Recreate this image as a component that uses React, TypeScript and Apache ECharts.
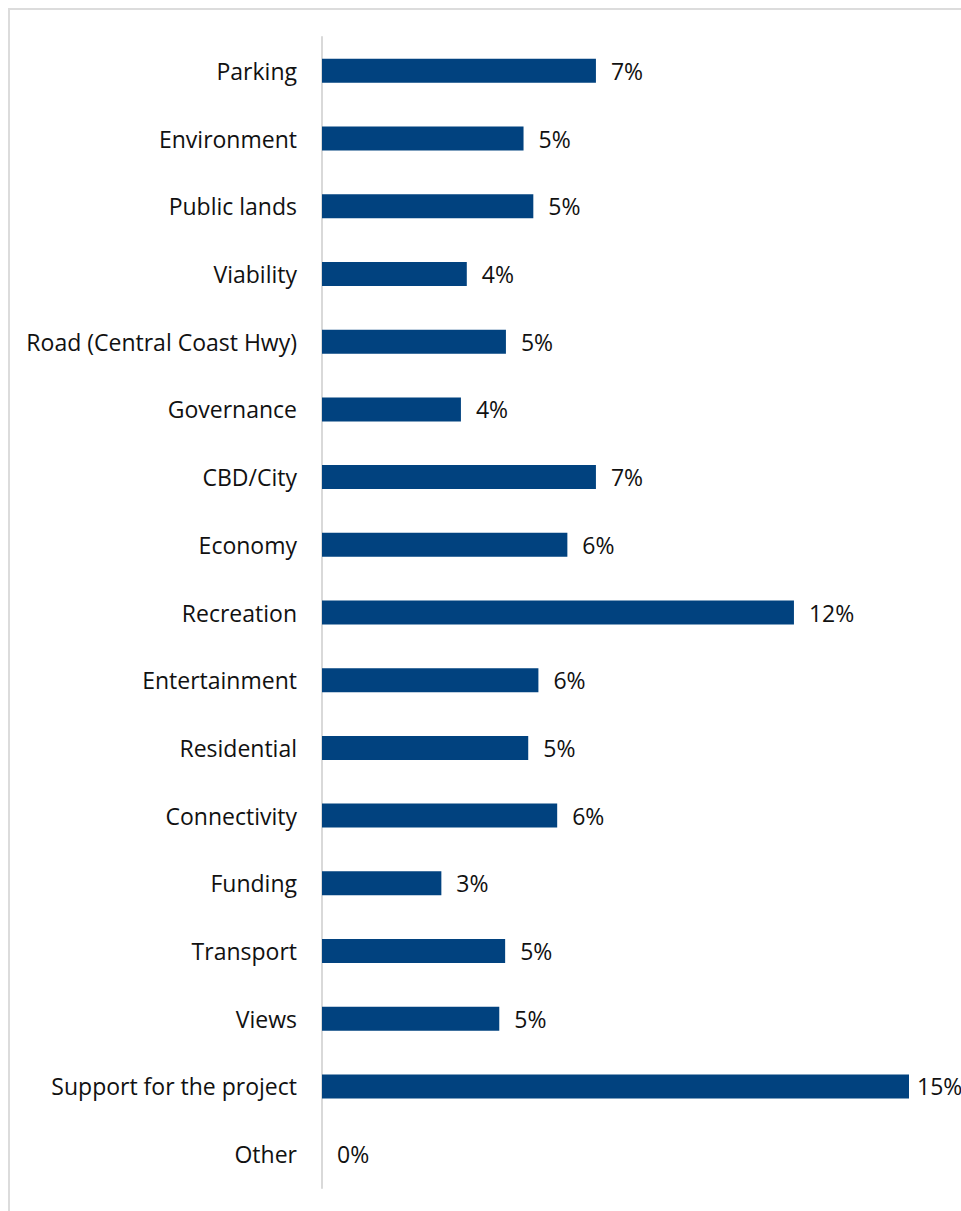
import React, { useEffect, useRef } from "react";
import * as echarts from "echarts";

const categories = [
  "Parking",
  "Environment",
  "Public lands",
  "Viability",
  "Road (Central Coast Hwy)",
  "Governance",
  "CBD/City",
  "Economy",
  "Recreation",
  "Entertainment",
  "Residential",
  "Connectivity",
  "Funding",
  "Transport",
  "Views",
  "Support for the project",
  "Other",
];

const values = [7.0, 5.15, 5.4, 3.7, 4.7, 3.55, 7.0, 6.27, 12.06, 5.53, 5.27, 6.01, 3.05, 4.68, 4.53, 15.0, 0];

const FONT = "'Open Sans', 'Noto Sans', sans-serif";
const MAX = 15;

export default function App() {
  const ref = useRef<HTMLDivElement>(null);
  useEffect(() => {
    document.body.style.overflow = "hidden";
    if (!ref.current) return;
    const chart = echarts.init(ref.current, undefined, { renderer: "svg" });
    chart.setOption({
      animation: false,
      backgroundColor: "#ffffff",
      grid: { left: 312, top: 27, width: 587, height: 1151, containLabel: false },
      xAxis: {
        type: "value",
        min: 0,
        max: MAX,
        show: false,
      },
      yAxis: {
        type: "category",
        inverse: true,
        data: categories,
        axisLine: { show: true, lineStyle: { color: "#d9d9d9", width: 2 } },
        axisTick: { show: false },
        axisLabel: {
          color: "#111111",
          fontSize: 23,
          fontFamily: FONT,
          margin: 25,
        },
      },
      series: [
        {
          type: "bar",
          data: values.map((v) =>
            v >= MAX ? { value: v, label: { distance: 8 } } : v
          ),
          barWidth: 24,
          itemStyle: { color: "#01427f" },
          label: {
            show: true,
            position: "right",
            distance: 15,
            color: "#111111",
            fontSize: 23,
            fontFamily: FONT,
            formatter: (p: any) => Math.round(p.value) + "%",
          },
        },
      ],
    });
    return () => chart.dispose();
  }, []);
  return (
    <div
      style={{
        position: "fixed",
        left: 8,
        top: 8,
        width: 953,
        height: 1203,
        borderTop: "2px solid #dcdcdc",
        borderLeft: "2px solid #dcdcdc",
        boxSizing: "border-box",
        overflow: "hidden",
        background: "#ffffff",
      }}
    >
      <div ref={ref} style={{ width: 951, height: 1201 }} />
    </div>
  );
}
